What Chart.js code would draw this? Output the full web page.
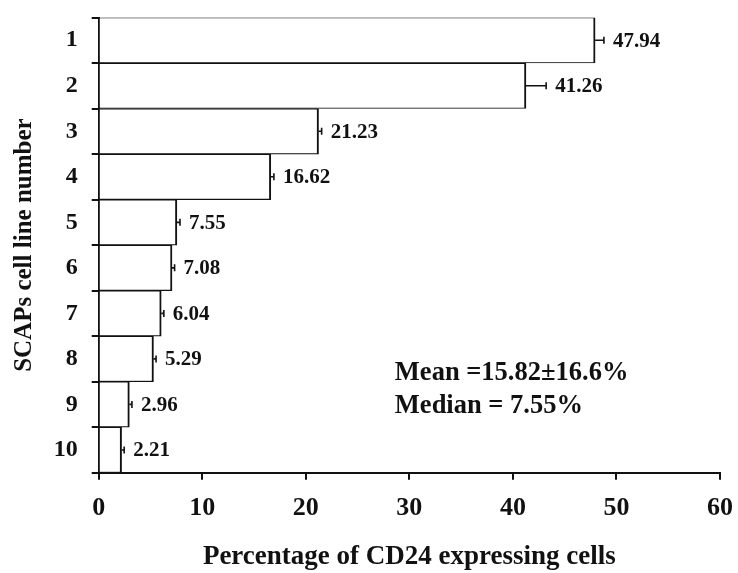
<!DOCTYPE html>
<html>
<head>
<meta charset="utf-8">
<script src="https://cdn.jsdelivr.net/npm/chart.js@4/dist/chart.umd.min.js"></script>
<style>
  html, body { margin: 0; padding: 0; background: #fff; }
  #wrap { width: 738px; height: 573px; }
</style>
</head>
<body>
<div id="wrap"><canvas id="c" width="738" height="573"></canvas></div>
<script>
const categories = ['1', '2', '3', '4', '5', '6', '7', '8', '9', '10'];
const values = [47.94, 41.26, 21.23, 16.62, 7.55, 7.08, 6.04, 5.29, 2.96, 2.21];
const errors = [0.85, 1.95, 0.3, 0.3, 0.3, 0.25, 0.25, 0.25, 0.25, 0.25];
const valueLabels = ['47.94', '41.26', '21.23', '16.62', '7.55', '7.08', '6.04', '5.29', '2.96', '2.21'];
const xTicks = [0, 10, 20, 30, 40, 50, 60];
const annotationLines = ['Mean =15.82\u00b116.6%', 'Median = 7.55%'];
const xTitle = 'Percentage of CD24 expressing cells';
const yTitle = 'SCAPs cell line number';

const SERIF = '"Liberation Serif", "Times New Roman", Times, serif';
const INK = '#111';

const overlay = {
  id: 'overlay',
  afterDatasetsDraw(chart) {
    const ctx = chart.ctx;
    const xs = chart.scales.x;
    const ys = chart.scales.y;
    const meta = chart.getDatasetMeta(0);
    ctx.save();
    ctx.strokeStyle = INK;
    ctx.fillStyle = INK;
    ctx.lineWidth = 1.6;
    meta.data.forEach((bar, i) => {
      const y = bar.y;
      const x0 = xs.getPixelForValue(values[i]);
      const x1 = xs.getPixelForValue(values[i] + errors[i]);
      ctx.beginPath();
      ctx.moveTo(x0, y);
      ctx.lineTo(x1, y);
      ctx.moveTo(x1, y - 3.5);
      ctx.lineTo(x1, y + 3.5);
      ctx.stroke();
      ctx.font = 'bold 21px ' + SERIF;
      ctx.textAlign = 'left';
      ctx.textBaseline = 'middle';
      ctx.fillText(valueLabels[i], x1 + 9, y + 1);
    });
    // annotation
    ctx.font = 'bold 26.5px ' + SERIF;
    ctx.textAlign = 'left';
    ctx.textBaseline = 'alphabetic';
    const ax = xs.getPixelForValue(28.6);
    const ay = ys.getPixelForValue(7) + 21;
    ctx.fillText(annotationLines[0], ax, ay);
    ctx.fillText(annotationLines[1], ax, ay + 33);
    ctx.restore();
  }
};

new Chart(document.getElementById('c'), {
  type: 'bar',
  data: {
    labels: categories,
    datasets: [{
      data: values,
      backgroundColor: '#ffffff',
      borderColor: INK,
      borderWidth: { top: 1.2, bottom: 1.2, right: 2, left: 0 },
      borderSkipped: false,
      barPercentage: 1.0,
      categoryPercentage: 1.0
    }]
  },
  options: {
    indexAxis: 'y',
    responsive: false,
    animation: false,
    devicePixelRatio: 1,
    layout: { padding: { top: 17.5, right: 18, bottom: 0, left: 0 } },
    plugins: { legend: { display: false }, tooltip: { enabled: false } },
    scales: {
      x: {
        type: 'linear',
        min: 0,
        max: 60,
        afterBuildTicks(scale) { scale.ticks = xTicks.map(v => ({ value: v })); },
        afterFit(scale) { scale.height = 100.3; scale.paddingLeft = 0; scale.paddingRight = 0; },
        border: { display: true, color: INK, width: 2 },
        grid: { display: true, drawOnChartArea: false, drawTicks: true, tickLength: 7, color: INK, lineWidth: 2 },
        ticks: { color: INK, padding: 13, font: { family: SERIF, size: 26, weight: 'bold', lineHeight: 1.2 }, maxRotation: 0 },
        title: { display: true, text: xTitle, color: INK, padding: { top: 0, bottom: 0 }, font: { family: SERIF, size: 27, weight: 'bold', lineHeight: 1.2 } }
      },
      y: {
        type: 'category',
        offset: true,
        afterFit(scale) { scale.width = 98.7; scale.paddingTop = 0; scale.paddingBottom = 0; },
        border: { display: true, color: INK, width: 2 },
        grid: { display: true, offset: true, drawOnChartArea: false, drawTicks: true, tickLength: 7, color: INK, lineWidth: 2 },
        ticks: { color: INK, padding: 14, font: { family: SERIF, size: 24, weight: 'bold', lineHeight: 1.2 } },
        title: { display: true, text: yTitle, color: INK, padding: { top: 9.5, bottom: 0 }, font: { family: SERIF, size: 25, weight: 'bold', lineHeight: 1.2 } }
      }
    }
  },
  plugins: [overlay]
});
</script>
</body>
</html>
